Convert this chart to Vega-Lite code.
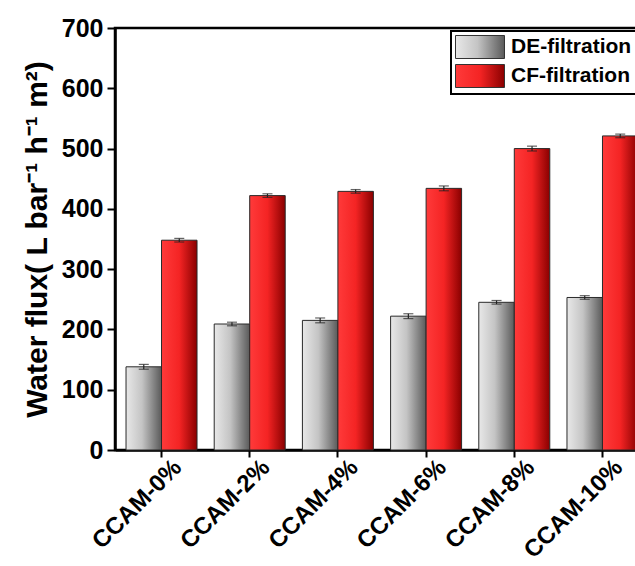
{
  "$schema": "https://vega.github.io/schema/vega-lite/v6.json",
  "width": 522,
  "height": 422,
  "autosize": "none",
  "padding": {"left": 115, "top": 28, "right": -2, "bottom": 116},
  "background": "white",
  "config": {
    "view": {"stroke": "black", "strokeWidth": 2.5},
    "font": "Liberation Sans",
    "axis": {"domainColor": "black", "domainWidth": 2.5, "tickColor": "black", "tickWidth": 2, "labelColor": "black", "titleColor": "black", "labelFont": "Liberation Sans", "titleFont": "Liberation Sans", "labelFontWeight": "bold", "titleFontWeight": "bold", "grid": false}
  },
  "data": {
    "values": [
      {"sample": "CCAM-0%", "series": "DE-filtration", "flux": 138, "lo": 134, "hi": 142},
      {"sample": "CCAM-2%", "series": "DE-filtration", "flux": 209, "lo": 206, "hi": 212},
      {"sample": "CCAM-4%", "series": "DE-filtration", "flux": 215, "lo": 211, "hi": 219},
      {"sample": "CCAM-6%", "series": "DE-filtration", "flux": 222, "lo": 218, "hi": 226},
      {"sample": "CCAM-8%", "series": "DE-filtration", "flux": 245, "lo": 242, "hi": 248},
      {"sample": "CCAM-10%", "series": "DE-filtration", "flux": 253, "lo": 250, "hi": 256},
      {"sample": "CCAM-0%", "series": "CF-filtration", "flux": 348, "lo": 345, "hi": 351},
      {"sample": "CCAM-2%", "series": "CF-filtration", "flux": 422, "lo": 419, "hi": 425},
      {"sample": "CCAM-4%", "series": "CF-filtration", "flux": 429, "lo": 426, "hi": 432},
      {"sample": "CCAM-6%", "series": "CF-filtration", "flux": 434, "lo": 430, "hi": 438},
      {"sample": "CCAM-8%", "series": "CF-filtration", "flux": 500, "lo": 496, "hi": 504},
      {"sample": "CCAM-10%", "series": "CF-filtration", "flux": 521, "lo": 518, "hi": 524}
    ]
  },
  "encoding": {
    "x": {
      "field": "sample", "type": "nominal", "sort": null,
      "scale": {"range": [0, 534], "paddingInner": 0.195, "paddingOuter": 0.125},
      "axis": {"title": null, "labelAngle": -45, "labelAlign": "right", "labelBaseline": "top", "labelFontSize": 24, "labelPadding": -2, "labelOffset": 8, "tickSize": 7, "labelOverlap": false}
    },
    "xOffset": {"field": "series", "type": "nominal", "scale": {"domain": ["DE-filtration", "CF-filtration"]}}
  },
  "layer": [
    {
      "mark": {"type": "bar", "stroke": "#2a2a2a", "strokeWidth": 1},
      "encoding": {
        "y": {"field": "flux", "type": "quantitative",
          "scale": {"domain": [0, 700], "nice": false},
          "axis": {"title": "Water flux( L bar⁻¹ h⁻¹ m²)", "titleFontSize": 30, "titlePadding": 9,
            "values": [0, 50, 100, 150, 200, 250, 300, 350, 400, 450, 500, 550, 600, 650, 700],
            "labelExpr": "datum.value % 100 === 0 ? datum.label : ''",
            "labelFontSize": 25, "labelPadding": 4, "labelOverlap": false,
            "tickSize": {"condition": {"test": "datum.value % 100 === 0", "value": 8}, "value": 5}}},
        "color": {"field": "series", "type": "nominal",
          "scale": {"domain": ["DE-filtration", "CF-filtration"], "range": [
            {"expr": "{gradient: 'linear', x1: 0, x2: 1, y1: 0, y2: 0, stops: [{offset: 0, color: '#e8e8e8'}, {offset: 0.45, color: '#c4c4c4'}, {offset: 1, color: '#5a5a5a'}]}"},
            {"expr": "{gradient: 'linear', x1: 0, x2: 1, y1: 0, y2: 0, stops: [{offset: 0, color: '#ff3a3a'}, {offset: 0.5, color: '#f42424'}, {offset: 1, color: '#8a0000'}]}"}
          ]},
          "legend": {"title": null, "orient": "none", "legendX": 336, "legendY": 3,
            "symbolType": "M-2.13,-1H2.13V1H-2.13Z", "symbolSize": 529, "symbolOffset": 13,
            "symbolStrokeColor": "#333", "symbolStrokeWidth": 1,
            "labelFontSize": 21, "labelFontWeight": "bold", "labelColor": "black", "labelOffset": 19,
            "labelExpr": "datum.label + '\u00a0\u00a0'",
            "rowPadding": 1, "padding": 4, "fillColor": "white", "strokeColor": "black",
            "labelLimit": 300,
            "encode": {"legend": {"update": {"strokeWidth": {"value": 2}}}}}
        }
      }
    },
    {
      "mark": {"type": "rule", "color": "#222", "strokeWidth": 1.2},
      "encoding": {"y": {"field": "lo", "type": "quantitative"}, "y2": {"field": "hi"}}
    },
    {
      "mark": {"type": "tick", "color": "#222", "size": 10, "thickness": 1.2},
      "encoding": {"y": {"field": "lo", "type": "quantitative"}}
    },
    {
      "mark": {"type": "tick", "color": "#222", "size": 10, "thickness": 1.2},
      "encoding": {"y": {"field": "hi", "type": "quantitative"}}
    }
  ]
}
